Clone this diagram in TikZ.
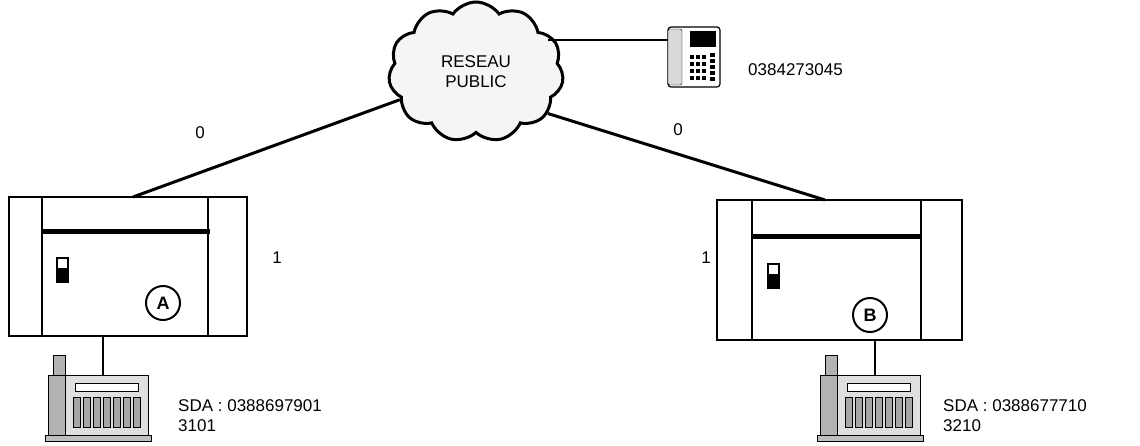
\documentclass[tikz,border=0pt]{standalone}
\usepackage{fontspec}
\setmainfont{Liberation Sans}
\usetikzlibrary{shapes.symbols,positioning}
\begin{document}
\begin{tikzpicture}[
                x=1pt, y=-1pt,
                font=\fontsize{17}{20}\selectfont,
                line/.style={draw, line width=3pt},
                thin line/.style={draw, line width=1.8pt},
                box/.style={draw, line width=2.4pt},
                label/.style={anchor=west, align=left, inner sep=0pt},
                letter/.style={circle, draw, line width=2pt, minimum size=34pt, inner sep=0pt, font=\fontsize{18}{18}\selectfont\bfseries},
                desk/.pic={
                    % combine de bureau
                    \fill [gray!60, draw=black] (-50,-20) rectangle (-38,0);
                    \fill [gray!25, draw=black] (-55,0) rectangle (45,60);
                    \fill [gray!60, draw=black] (-55,0) rectangle (-38,60);
                    \draw [fill=white] (-28,8) rectangle (35,16);
                    \foreach \i in {-30,-20,...,30}
                        \draw [fill=gray!70] (\i,22) rectangle (\i+7,52);
                    \fill [gray!50, draw=black] (-58,60) rectangle (48,66);
                },
                wall/.pic={
                    % poste mural
                    \draw [rounded corners=3pt, fill=white, line width=1.2pt] (0,0) rectangle (52,60);
                    \draw [rounded corners=2pt, fill=gray!30] (0,2) rectangle (14,58);
                    \fill (22,4) rectangle (48,20);
                    \foreach \r in {0,1,2,3}
                        \foreach \c in {0,1,2}
                            \fill (22+\c*6,28+\r*7) rectangle (26+\c*6,32+\r*7);
                    \foreach \r in {0,1,2,3,4}
                        \fill (42,26+\r*6) rectangle (47,30+\r*6);
                }]

                \useasboundingbox (0,0) rectangle (1140,445);

                % reseau
                \node [cloud, cloud puffs=11, cloud puff arc=110, aspect=1.2, draw, line width=3pt,
                    fill=gray!8, minimum width=175pt, minimum height=140pt, inner sep=0pt, align=center] (reseau) at (476,72) {RESEAU\\PUBLIC};
                \coordinate (reseau_est) at (548,40);

                \pic at (668,27) {wall};
                \coordinate (mural) at (668,40);
                \node [label] (num_mural) at (748,70) {0384273045};

                % autocommutateur A
                \draw [box] (9,197) rectangle (247,336);
                \draw [box] (42,197) -- (42,336);
                \draw [box] (208,197) -- (208,336);
                \draw [line width=5pt] (42,231) -- (210,231);
                \draw [line width=2pt, fill=white] (57,258) rectangle (68,282);
                \fill (57,268) rectangle (68,282);
                \node [letter] (a) at (163,303) {A};
                \coordinate (pabx_a) at (133,197);
                \coordinate (pabx_a_bas) at (103,336);

                % autocommutateur B
                \draw [box] (717,200) rectangle (962,340);
                \draw [box] (752,200) -- (752,340);
                \draw [box] (921,200) -- (921,340);
                \draw [line width=5pt] (752,236) -- (921,236);
                \draw [line width=2pt, fill=white] (768,264) rectangle (779,288);
                \fill (768,274) rectangle (779,288);
                \node [letter] (b) at (870,315) {B};
                \coordinate (pabx_b) at (825,200);
                \coordinate (pabx_b_bas) at (875,340);

                % postes
                \pic at (103,375) {desk};
                \coordinate (poste_a) at (103,375);
                \pic at (875,375) {desk};
                \coordinate (poste_b) at (875,375);

                \node [label] (sda_a) at (178,416) {SDA : 0388697901\\3101};
                \node [label] (sda_b) at (943,416) {SDA : 0388677710\\3210};

                \node (zero_a) at (200,133) {0};
                \node (zero_b) at (678,130) {0};
                \node (un_a) at (277,258) {1};
                \node (un_b) at (706,258) {1};

                \draw [thin line] (reseau_est) -- (mural);
                \draw [line] (reseau.200) -- (pabx_a);
                \draw [line] (reseau.-30) -- (pabx_b);
                \draw [thin line] (pabx_a_bas) -- (poste_a);
                \draw [thin line] (pabx_b_bas) -- (poste_b);

            \end{tikzpicture}
\end{document}
